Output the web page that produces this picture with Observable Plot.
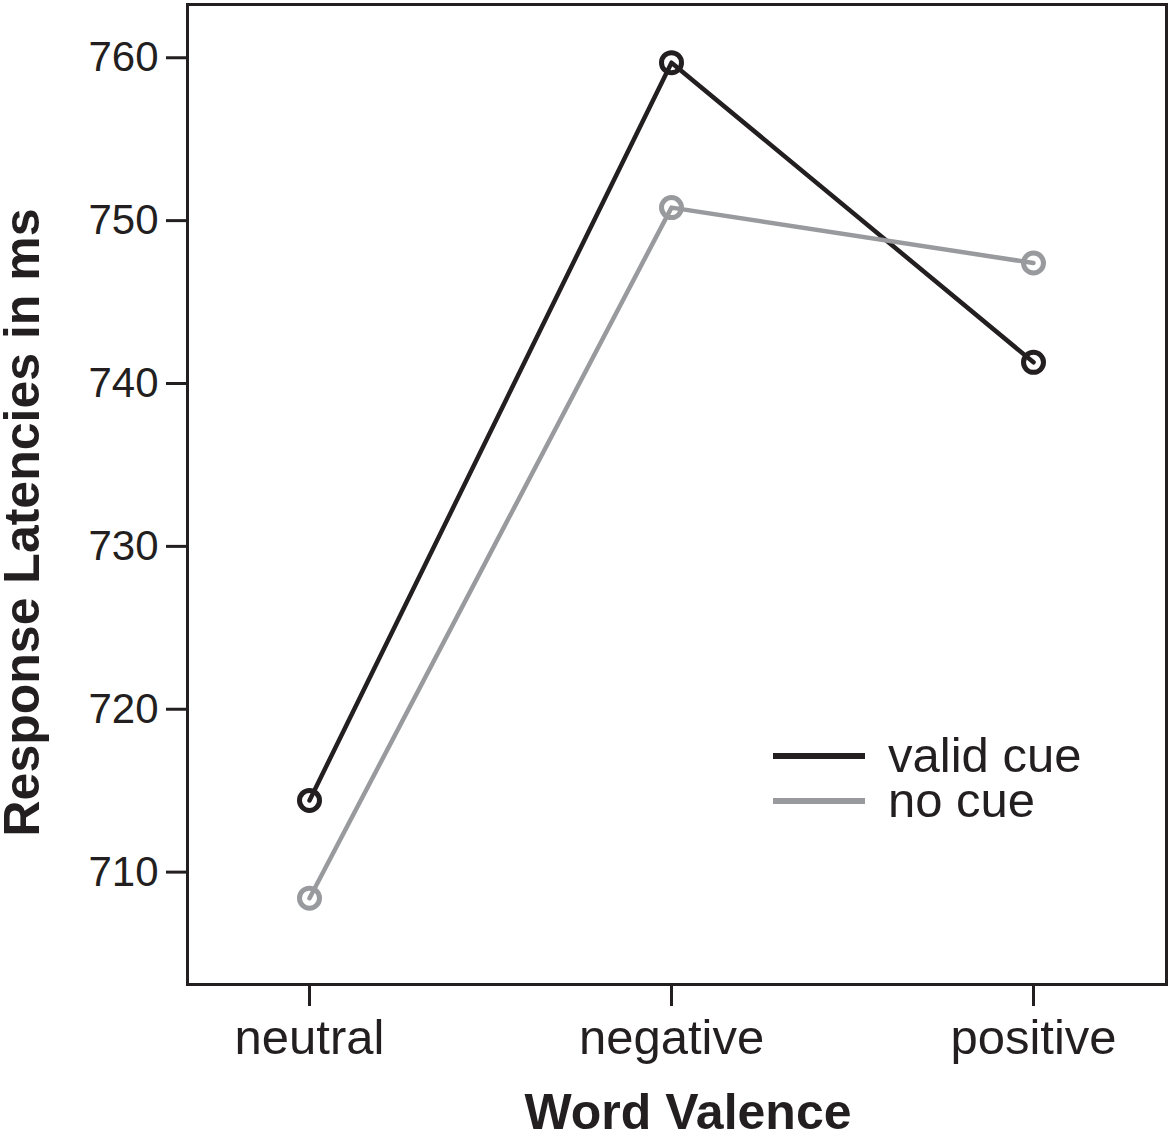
<!DOCTYPE html>
<html>
<head>
<meta charset="utf-8">
<script src="https://cdn.jsdelivr.net/npm/d3@7"></script>
<script src="https://cdn.jsdelivr.net/npm/@observablehq/plot@0.6"></script>
<style>
  html, body { margin: 0; padding: 0; background: white; }
  #wrap { position: relative; width: 1173px; height: 1136px; font-family: "Liberation Sans", Arial, sans-serif; }
  #legend { position: absolute; left: 773px; top: 733px; color: #231f20; font-size: 49px; line-height: 45px; }
  .row { display: flex; align-items: center; height: 45px; }
  .sw { width: 92px; height: 6px; margin-right: 23px; }
</style>
</head>
<body>
<div id="wrap"><div id="legend"></div></div>
<script>
const valence = ["neutral", "negative", "positive"];
const seriesNames = ["valid cue", "no cue"];
const validCue = [714.4, 759.7, 741.3];
const noCue = [708.4, 750.8, 747.4];
const yTicks = [710, 720, 730, 740, 750, 760];
const seriesColors = ["#231f20", "#999a9d"];
const xTitle = "Word Valence";
const yTitle = "Response Latencies in ms";

const data = [];
valence.forEach((v, i) => data.push({valence: v, rt: validCue[i], cue: seriesNames[0]}));
valence.forEach((v, i) => data.push({valence: v, rt: noCue[i], cue: seriesNames[1]}));

const chart = Plot.plot({
  width: 1173,
  height: 1136,
  marginLeft: 187,
  marginRight: 7,
  marginTop: 4,
  marginBottom: 152,
  style: {fontFamily: "'Liberation Sans', Arial, sans-serif", background: "white", color: "#231f20", overflow: "visible"},
  x: {type: "point", domain: valence, padding: 0.35, align: 0.48},
  y: {domain: [703.1, 763.27]},
  color: {domain: seriesNames, range: seriesColors},
  marks: [
    Plot.frame({stroke: "#231f20", strokeWidth: 3}),
    Plot.axisY({ticks: yTicks, tickSize: 21, tickPadding: 8, fontSize: 42, strokeWidth: 3, label: null, tickFormat: d => String(d)}),
    Plot.axisX({tickSize: 22, tickPadding: 13, fontSize: 49, strokeWidth: 3, label: null}),
    Plot.text([yTitle], {frameAnchor: "left", textAnchor: "middle", lineAnchor: "middle", rotate: -90, dx: -165, dy: 28, fontSize: 50, fontWeight: "bold", fill: "#231f20"}),
    Plot.text([xTitle], {frameAnchor: "bottom", textAnchor: "middle", lineAnchor: "middle", dx: 11, dy: 128, fontSize: 50, fontWeight: "bold", fill: "#231f20"}),
    Plot.line(data, {x: "valence", y: "rt", z: "cue", stroke: "cue", strokeWidth: 4.5}),
    Plot.dot(data, {x: "valence", y: "rt", stroke: "cue", r: 10, strokeWidth: 5, fill: "none"})
  ]
});
document.getElementById("wrap").prepend(chart);

const legend = document.getElementById("legend");
seriesNames.forEach((name, i) => {
  const row = document.createElement("div");
  row.className = "row";
  const sw = document.createElement("div");
  sw.className = "sw";
  sw.style.background = seriesColors[i];
  const label = document.createElement("span");
  label.textContent = name;
  row.append(sw, label);
  legend.append(row);
});
</script>
</body>
</html>
